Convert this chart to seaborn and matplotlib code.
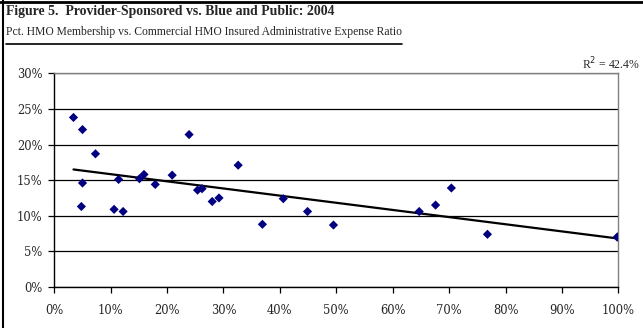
import matplotlib
matplotlib.use("Agg")
import matplotlib.pyplot as plt
from matplotlib.lines import Line2D
from matplotlib.ticker import PercentFormatter, MultipleLocator
import numpy as np
import pandas as pd
import seaborn as sns

# Percent of HMO membership (x) vs. commercial HMO insured admin expense ratio (y)
pct_hmo_membership = [3.4, 5.0, 7.3, 5.0, 4.8, 10.6, 12.2, 11.4, 15.1, 15.9,
                      17.9, 20.9, 23.9, 25.4, 26.2, 28.0, 29.2, 32.6, 36.9, 40.6,
                      44.9, 49.5, 64.7, 67.6, 70.4, 76.8, 100.0, 99.8]
admin_expense_ratio = [23.8, 22.1, 18.7, 14.6, 11.3, 10.9, 10.6, 15.1, 15.2, 15.8,
                       14.4, 15.7, 21.4, 13.6, 13.8, 12.0, 12.5, 17.1, 8.8, 12.4,
                       10.6, 8.7, 10.6, 11.5, 13.9, 7.4, 7.1, 7.0]
r_squared_label = "42.4%"

title_text = "Figure 5.  Provider-Sponsored vs. Blue and Public: 2004"
subtitle_text = "Pct. HMO Membership vs. Commercial HMO Insured Administrative Expense Ratio"

df = pd.DataFrame({"x": pct_hmo_membership, "y": admin_expense_ratio})

sns.set_style("white")
plt.rcParams["font.family"] = ["Liberation Serif", "DejaVu Serif"]

W, H = 643, 328
fig = plt.figure(figsize=(W / 100, H / 100), dpi=100)
ax = fig.add_axes([54.3 / W, 1 - 287 / H, (618.3 - 54.3) / W, (287 - 73.3) / H])

sns.regplot(data=df, x="x", y="y", ax=ax, ci=None,
            marker="D",
            scatter_kws={"s": 22, "color": "#000080", "edgecolor": "none",
                         "alpha": 1, "zorder": 3},
            line_kws={"color": "black", "lw": 1.6, "zorder": 2})

ax.set_xlim(0, 100)
ax.set_ylim(0, 30)
ax.xaxis.set_major_locator(MultipleLocator(10))
ax.yaxis.set_major_locator(MultipleLocator(5))
ax.xaxis.set_major_formatter(PercentFormatter(decimals=0))
ax.yaxis.set_major_formatter(PercentFormatter(decimals=0))
ax.set_xlabel("")
ax.set_ylabel("")
ax.yaxis.grid(True, color="black", lw=0.9)
ax.set_axisbelow(True)
ax.tick_params(axis="both", direction="out", length=4, width=0.9, color="black",
               labelsize=8.3, labelfontfamily="DejaVu Serif")
ax.tick_params(axis="y", pad=4.5)
ax.tick_params(axis="x", pad=8)
ax.tick_params(left=True, bottom=True)
for side in ["left", "bottom"]:
    ax.spines[side].set_color("black")
    ax.spines[side].set_linewidth(1.0)
for side in ["top", "right"]:
    ax.spines[side].set_color("#808080")
    ax.spines[side].set_linewidth(1.0)

# Headings and frame
fig.text(6 / W, 1 - 12 / H, title_text, fontsize=9.9, fontweight="bold", va="center", ha="left")
sub = fig.text(6 / W, 1 - 32 / H, subtitle_text, fontsize=8.4, va="center", ha="left")
fig.text(582 / W, 1 - 64 / H, "R$^2$ = " + r_squared_label, fontsize=8.5, va="center", ha="left")

fig.canvas.draw()
bb = sub.get_window_extent().transformed(fig.transFigure.inverted())
fig.add_artist(Line2D([bb.x0, bb.x1], [1 - 43.5 / H, 1 - 43.5 / H], color="black", lw=1.2))
fig.add_artist(Line2D([0, 1], [1 - 1.5 / H, 1 - 1.5 / H], color="black", lw=2))
fig.add_artist(Line2D([3 / W, 3 / W], [0, 1], color="black", lw=1.5))

fig.savefig("out.png", dpi=100)
